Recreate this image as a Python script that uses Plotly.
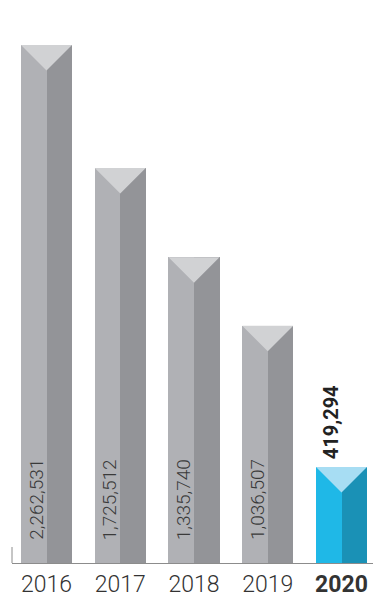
import plotly.graph_objects as go

# Annual totals
years = ["2016", "2017", "2018", "2019", "2020"]
values = [2262531, 1725512, 1335740, 1036507, 419294]
highlight_year = "2020"

# Face colours: (left face, right face, top cap)
gray_faces = ("#b0b1b5", "#939498", "#d1d2d4")
blue_faces = ("#1fb8e7", "#1a91b6", "#a7ddf3")

W, H = 373, 598
margin = dict(l=12, r=0, t=13, b=35)
y_max = 2402000
x_range = [-0.468, 4.427]
half = 0.346  # half of a bar's width, in category units

plot_w = W - margin["l"] - margin["r"]
plot_h = H - margin["t"] - margin["b"]
px_per_x = plot_w / (x_range[1] - x_range[0])
px_per_y = plot_h / y_max
cap_depth = half * px_per_x / px_per_y  # 45-degree bevel on the cap

idx = list(range(len(years)))
faces = [blue_faces if y == highlight_year else gray_faces for y in years]

fig = go.Figure()

# Left and right faces of each prism
fig.add_trace(go.Bar(
    x=idx, y=values, width=half, offset=-half,
    marker=dict(color=[f[0] for f in faces], line=dict(width=0)),
    hoverinfo="skip", showlegend=False,
))
fig.add_trace(go.Bar(
    x=idx, y=values, width=half, offset=0,
    marker=dict(color=[f[1] for f in faces], line=dict(width=0)),
    hoverinfo="skip", showlegend=False,
))

# Triangular top cap of each prism
for i, v in enumerate(values):
    fig.add_trace(go.Scatter(
        x=[i - half, i + half, i, i - half],
        y=[v, v, v - cap_depth, v],
        mode="lines", fill="toself",
        fillcolor=faces[i][2], line=dict(width=0, color=faces[i][2]),
        hoverinfo="skip", showlegend=False,
    ))

# Value labels
annotations = []
for i, (yr, v) in enumerate(zip(years, values)):
    text = f"{v:,}"
    if yr == highlight_year:
        annotations.append(dict(
            x=i - 0.14, y=v, yshift=6, xref="x", yref="y",
            text=text, showarrow=False, textangle=-90,
            xanchor="center", yanchor="bottom",
            font=dict(family="Roboto", size=20, color="#222222", weight=700),
        ))
    else:
        annotations.append(dict(
            x=i - 0.14, y=0, yshift=21, xref="x", yref="y",
            text=text, showarrow=False, textangle=-90,
            xanchor="center", yanchor="bottom",
            font=dict(family="Roboto", size=19, color="#3a3a3a", weight=300),
        ))

ticktext = [f"<b>{y}</b>" if y == highlight_year else y for y in years]

fig.update_layout(
    width=W, height=H,
    margin=margin,
    paper_bgcolor="white", plot_bgcolor="white",
    barmode="overlay", bargap=0,
    annotations=annotations,
    font=dict(family="Roboto", color="#333333"),
    xaxis=dict(
        range=x_range, tickmode="array", tickvals=idx, ticktext=ticktext,
        showgrid=False, zeroline=False, showline=True,
        linecolor="#8c8c8c", linewidth=1, ticks="",
        ticklabelstandoff=0, automargin=False,
        tickfont=dict(family="Roboto", size=23, color="#333333", weight=300),
        fixedrange=True,
    ),
    yaxis=dict(
        range=[0, y_max], showgrid=False, zeroline=False, automargin=False,
        showticklabels=False, showline=False, fixedrange=True,
    ),
    shapes=[dict(
        type="line", xref="paper", yref="paper",
        x0=0, x1=0, y0=0, y1=16 / plot_h,
        line=dict(color="#8c8c8c", width=1),
    )],
)

fig.write_html("out.html", config={"displayModeBar": False})
